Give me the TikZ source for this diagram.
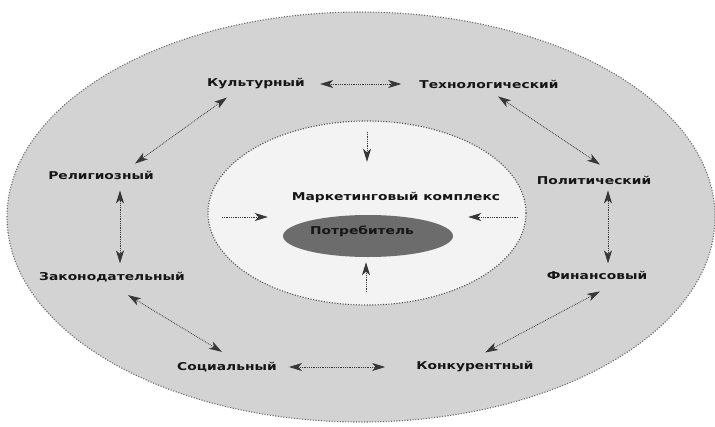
\documentclass[tikz,border=0pt]{standalone}
\usepackage{fontspec}
\newfontfamily\lblfont{DejaVu Sans}[FakeStretch=1.28]
\usetikzlibrary{arrows.meta,calc,shapes.geometric}
\definecolor{outerfill}{RGB}{211,211,211}
\definecolor{innerfill}{RGB}{243,243,243}
\definecolor{corefill}{RGB}{108,108,108}
\definecolor{dotline}{RGB}{105,105,105}
\definecolor{arrink}{RGB}{55,55,55}
\definecolor{ink}{RGB}{22,22,22}
\begin{document}
\begin{tikzpicture}[x=1pt,y=-1pt,
  >={Stealth[length=13pt,width=8pt,inset=3.5pt]},
  lbl/.style={font=\lblfont\bfseries\fontsize{10.8}{12}\selectfont, text=ink, inner sep=1pt},
  rim/.style={draw=dotline, line width=1.1pt, dash pattern=on 1.1pt off 1.6pt},
  arr/.style={draw=arrink, line width=0.8pt, dash pattern=on 0.8pt off 1pt, <->},
  inarr/.style={draw=arrink, line width=0.8pt, dash pattern=on 0.8pt off 1pt, ->}]
\useasboundingbox (0,0) rectangle (715,426);
\fill[white] (0,0) rectangle (715,426);

% environment rings
\draw[rim, fill=outerfill] (361,217) ellipse [x radius=354, y radius=205];
\draw[rim, draw=dotline!75!black, line width=1.1pt, fill=innerfill] (367,213) ellipse [x radius=159, y radius=92];

% consumer at the core
\node[ellipse, fill=corefill, minimum width=170pt, minimum height=42pt, inner sep=0pt] (core) at (368,236) {};
\node[lbl] (potr) at (362,231) {Потребитель};
\node[lbl] (mark) at (396,197) {Маркетинговый комплекс};

% outer factors
\node[lbl] (kult)   at (256,84)  {Культурный};
\node[lbl] (tech)   at (489,84)  {Технологический};
\node[lbl] (relig)  at (101,175) {Религиозный};
\node[lbl] (polit)  at (594,180) {Политический};
\node[lbl] (zakon)  at (112,277) {Законодательный};
\node[lbl] (finan)  at (597,275) {Финансовый};
\node[lbl] (soc)    at (227,367) {Социальный};
\node[lbl] (konk)   at (475,367) {Конкурентный};

% links between outer factors
\draw[arr] ($(kult.east)+(14,0)$) -- ($(tech.west)+(-17,0)$);
\draw[arr] ($(soc.east)+(11,0)$) -- ($(konk.west)+(-30,0)$);
\draw[arr] ($(kult.south)+(-29,7)$) -- ($(relig.north)+(34,-6)$);
\draw[arr] ($(tech.south)+(9,7)$) -- ($(polit.north)+(6,-10)$);
\draw[arr] ($(zakon.south)+(16,12)$) -- ($(soc.north)+(-5,-9)$);
\draw[arr] ($(finan.south)+(3,11)$) -- ($(konk.north)+(10,-8)$);
\draw[arr] ($(relig.south)+(19,10)$) -- ($(relig.south)+(19,83)$);
\draw[arr] ($(polit.south)+(14,5)$) -- ($(polit.south)+(14,78)$);

% influences on the consumer
\coordinate (inT) at (367,132);
\coordinate (inL) at (222,217);
\coordinate (inR) at (518,217);
\coordinate (inB) at (366,292);
\draw[inarr, shorten >=53pt] (inT) -- (inT |- core.north);
\draw[inarr, shorten >=15pt] (inL) -- (inL -| core.west);
\draw[inarr, shorten >=15pt] (inR) -- (inR -| core.east);
\draw[inarr, shorten >=5pt] (inB) -- (inB |- core.south);
\end{tikzpicture}
\end{document}
